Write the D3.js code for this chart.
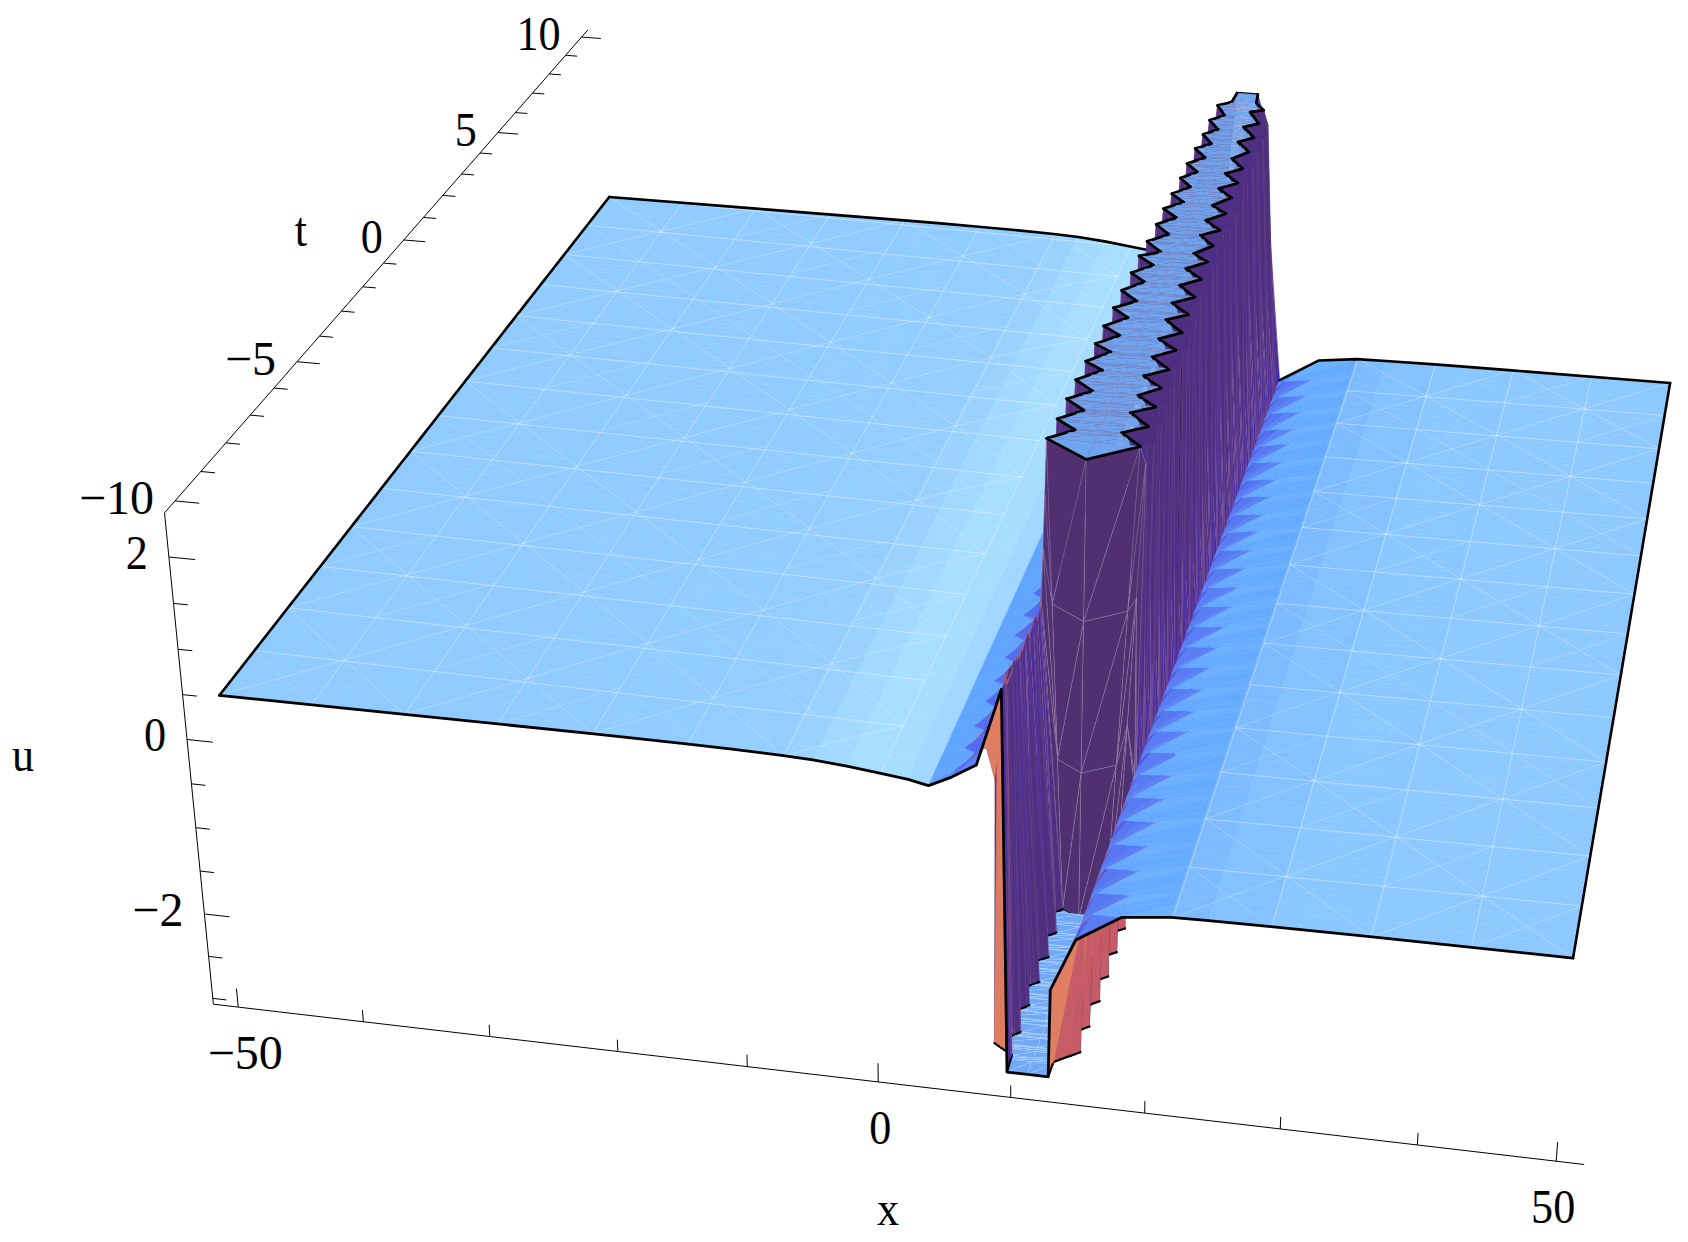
<!DOCTYPE html>
<html>
<head>
<meta charset="utf-8">
<script src="https://cdn.jsdelivr.net/npm/d3@7"></script>
<style>
  body { margin: 0; background: #fff; }
  text { font-family: "Liberation Serif", serif; font-size: 48px; fill: #000; }
</style>
</head>
<body>
<div id="chart"></div>
<script>
// axis ticks
const xTicks = [-50, -40, -30, -20, -10, 0, 10, 20, 30, 40, 50];
const xMajor = [-50, 0, 50];
const tTicks = d3.range(-10, 11);
const tMajor = [-10, -5, 0, 5, 10];
const uTicks = [2, 1.5, 1, 0.5, 0, -0.5, -1, -1.5, -2, -2.5, -3];
const uMajor = [2, 0, -2];

// surface level of the clipped ridge and trough
const uTop = 2.36;
const uBot = -2.96;

// far field profile left of the wall
const leftX = [-50, -35.7, -21.5, -18, -14.4, -11, -7.3, -5, -2.5, 0, 2, 3.5];
const leftU = [0.38, 0.38, 0.38, 0.378, 0.374, 0.368, 0.357, 0.342, 0.312, 0.27, 0.235, 0.19];
const leftFootX = 6.9;
const leftFootU = 0.47;
const leftToothT = [-9.66, -9, -8.33, -7.56, -6.92, -6.16, -5.44, -4.76, -4.02, -3.25, -2.5, -1.8, -1.1];

// far field profile right of the wall
const rightX = [21.3, 24, 28.5, 35.6, 50];
const rightU = [-0.98, -0.972, -0.963, -0.957, -0.95];
const rightToothT = [-9.38, -8.67, -7.96, -7.24, -6.52, -5.8, -5.1, -4.39, -3.73, -3, -2.25, -1.55, -0.82, -0.09, 0.62, 1.33, 2.02, 2.75, 3.42, 4.14, 4.83, 5.54, 6.3, 6.94, 7.68, 8.4, 9.12, 9.85];
const footT = [-10, -5, 10];
const footX = [14.35, 14.25, 14.2];
const footU = -1.35;

// trough edges, t < -5.3
const troughLeftT = [-10, -9.55, -9.28, -8.91, -8.53, -8.16, -7.85, -7.49, -7.1, -6.76, -6.4, -6.04, -5.7, -5.34];
const troughLeftX = [9.3, 9.2, 7.6, 9.2, 7.5, 9.1, 7.4, 9.2, 7.4, 9.2, 7.3, 9.1, 7.3, 8.9];
const peakX = [8.8, 8.7, 7.6, 8.5, 7.6, 8, 7.5, 7.7, 7.3, 7.4, 7.2, 7.2, 7.1, 7];
const peakU = [1.31, 1.25, 0.05, 1.15, 0.95, 1, 0.75, 0.85, 0.65, 0.78, 0.6, 0.72, 0.55, 0.62];
const troughRightT = [-10, -9.6, -9.26, -8.92, -8.55, -8.2, -7.83, -7.47, -7.12, -6.76, -6.41, -6.05, -5.7, -5.34];
const troughRightX = [12.4, 12.4, 14.1, 12.4, 14.1, 12.4, 14.2, 12.4, 14.2, 12.3, 14.2, 12.3, 14.2, 12.3];

// ridge edges, t > -5.1
const ridgeLeftT = [-5.03, -4.65, -4.32, -3.94, -3.58, -3.22, -2.86, -2.43, -2.15, -1.72, -1.46, -1.06, -0.75, -0.35, -0.01, 0.33, 0.71, 1.13, 1.46, 1.84, 2.18, 2.42, 2.82, 3.19, 3.58, 3.94, 4.29, 4.65, 4.98, 5.35, 5.72, 6.06, 6.41, 6.75, 7.14, 7.43, 7.84, 8.14, 8.55, 8.85, 9.31, 9.53, 10];
const ridgeLeftX = [7, 8.8, 7.1, 8.8, 7.1, 8.8, 7.1, 8.8, 7.2, 8.8, 7.3, 8.9, 7.3, 8.9, 7.4, 9, 7.4, 8.9, 7.5, 9, 7.5, 9.1, 7.6, 9.1, 7.7, 9.1, 7.7, 9.1, 7.8, 9.1, 7.9, 9.1, 7.9, 9.2, 8, 9.2, 8.1, 9.2, 8.1, 9.2, 8.2, 9.3, 9.4];
const ridgeRightT = [-5.02, -4.61, -4.31, -3.88, -3.6, -3.24, -2.9, -2.51, -2.2, -1.78, -1.45, -1.07, -0.76, -0.31, -0.04, 0.37, 0.68, 1.1, 1.42, 1.81, 2.15, 2.46, 2.85, 3.25, 3.54, 3.92, 4.28, 4.6, 5.01, 5.37, 5.69, 6.08, 6.37, 6.79, 7.17, 7.6, 7.87, 8.34, 8.56, 9.1, 9.24, 9.55, 10];
const ridgeRightX = [14.1, 12.3, 14.1, 12.3, 14, 12.3, 13.8, 12.1, 13.8, 12.1, 13.7, 12, 13.6, 11.9, 13.5, 11.8, 13.4, 11.8, 13.3, 11.7, 13.2, 11.8, 13.1, 11.7, 13.1, 11.6, 13, 11.6, 12.9, 11.5, 12.9, 11.5, 12.8, 11.5, 12.7, 11.4, 12.6, 11.3, 12.5, 11.3, 12.4, 11.5, 11.3];

const meshT = d3.range(0, 15).map(i => -10 + i * 20 / 14);
const meshX = d3.range(0, 15).map(i => -50 + i * 100 / 14);

const width = 1688;
const height = 1242;

// box scales and camera (fitted to the axis ticks)
const sx = d3.scaleLinear().domain([-52, 52]).range([-1, 1]);
const st = d3.scaleLinear().domain([-10.4, 10.4]).range([-1, 1]);
const su = d3.scaleLinear().domain([-3.1, 2.5]).range([-1, 1]);
const camera = [
  [0.591052, 0.260444, -0.0274428, 1.02161],
  [0.0427986, -0.206003, -0.243905, 0.523857],
  [-0.0268639, 0.130088, -0.0279931, 1]
];
function project(x, t, u) {
  const v = [sx(x), st(t), su(u), 1];
  const w = d3.sum(camera[2], (c, i) => c * v[i]);
  return [1000 * d3.sum(camera[0], (c, i) => c * v[i]) / w, 1000 * d3.sum(camera[1], (c, i) => c * v[i]) / w];
}
const uHi = 2.47, uLo = -3.07, xLo = -52, xHi = 52, tLo = -10.4, tHi = 10.4;

const track = (d, r) => d3.scaleLinear().domain(d).range(r).clamp(true);
const leftLevel = track(leftX, leftU);
const rightLevel = track(rightX, rightU);

// tooth tracks: tip at each listed t, notch half way
function toothTrack(tips, tipValue, notchValue, startValue) {
  const d = [-10], r = [startValue];
  tips.forEach((t, i) => {
    if (i > 0) { d.push((tips[i - 1] + t) / 2); r.push(notchValue); }
    else { d.push((-10 + t) / 2); r.push(notchValue); }
    d.push(t); r.push(tipValue);
  });
  d.push(10); r.push(tipValue);
  return track(d, r);
}
const leftToothX = toothTrack(leftToothT, 5.1, 6.5, 5.2);
const leftToothU = toothTrack(leftToothT, 0.26, 0.33, 0.31);
const rightToothX = toothTrack(rightToothT, 17.8, 15, 17.7);
const rightToothU = toothTrack(rightToothT, -1.04, -1.2, -1.04);

const foot = track(footT, footX);
const tlx = track(troughLeftT, troughLeftX);
const trx = track(troughRightT, troughRightX);
const pkx = track(troughLeftT, peakX);
const pku = track(troughLeftT, peakU);
const rlx = track(ridgeLeftT, ridgeLeftX);
const rrx = track(ridgeRightT, ridgeRightX);
const ridgeTips = ridgeLeftT.filter((d, i) => i % 2 === 0);
const rpx = track(ridgeTips, ridgeLeftX.filter((d, i) => i % 2 === 0));
const rpu = track(ridgeLeftT, ridgeLeftT.map((d, i) => i % 2 === 0 ? uTop : 0.55));

const troughEnd = -5.34, ridgeStart = -5.03;

// the five columns around the wall: peak, left edge, middle, right edge, shoulder
function centre(t) {
  if (t <= troughEnd) {
    const l = tlx(t), r = trx(t), f = foot(t);
    const mid = t === troughEnd ? [10.4, -5.56, uBot] : [(l + r) / 2, t, uBot];
    const sh = t === -10 ? [12.5, t, -1.95] : [(r + f) / 2, t, (uBot + footU) / 2];
    return [[pkx(t), t, pku(t)], [l, t, uBot], mid, [r, t, uBot], sh];
  }
  const l = rlx(t), r = rrx(t);
  const mid = t === ridgeStart ? [10.6, -5.63, uTop] : [(l + r) / 2, t, uTop];
  return [[Math.min(rpx(t), l), t, rpu(t)], [l, t, uTop], mid, [r, t, uTop], [r + 0.45, t, 2.17]];
}
const faceFrac = d3.scaleLinear().domain([0, 1]).range([troughEnd, ridgeStart]);
const faceLevels = [0.33, 0.66];

function makeRow(t, frac) {
  let c;
  if (frac === undefined) c = centre(t);
  else {
    const a = centre(troughEnd), b = centre(ridgeStart);
    c = a.map((p, i) => p.map((v, k) => v + (b[i][k] - v) * frac));
  }
  const row = leftX.map((x, i) => [x, t, leftU[i]]);
  row.push([leftToothX(t), t, leftToothU(t)], [t === -10 ? 7 : leftFootX, t, leftFootU]);
  c.forEach(p => row.push(p));
  row.push([foot(t), t, footU], [rightToothX(t), t, rightToothU(t)]);
  rightX.forEach((x, i) => row.push([x, t, rightU[i]]));
  return row;
}

// row list, sorted in t
const outerT = [-10, 10];
d3.pairs(rightToothT).forEach(p => outerT.push(p[0], (p[0] + p[1]) / 2));
d3.pairs(leftToothT).forEach(p => outerT.push(p[0], (p[0] + p[1]) / 2));
const rowT = Array.from(new Set(troughLeftT.concat(troughRightT, ridgeLeftT, ridgeRightT, outerT)))
  .filter(t => t <= troughEnd || t >= ridgeStart)
  .sort(d3.ascending);
const rows = [];
rowT.forEach(t => {
  rows.push({ t, face: false, pts: makeRow(t) });
  if (t === troughEnd) faceLevels.forEach(f => rows.push({ t: faceFrac(f), face: true, pts: makeRow(faceFrac(f), f) }));
});

// column indices
const nLeft = leftX.length;
const colFootL = nLeft + 1, colPeak = nLeft + 2, colEdgeL = nLeft + 3, colMid = nLeft + 4, colEdgeR = nLeft + 5, colFootR = nLeft + 7;
const colLast = rows[0].pts.length - 1;

// colour from the slope of a triangle
const slopeShade = d3.scaleLinear()
  .domain([-3, -0.9, -0.6, -0.3, -0.15, -0.05, -0.02, -0.008, 0, 0.05, 0.11, 0.4, 1, 3])
  .range(["#4a40d2", "#5062ec", "#5a80f5", "#5fa5ff", "#69aeff", "#74b6ff", "#7cbbff", "#88c6ff", "#90cbff", "#9ad3ff", "#a8deff", "#8ec4ff", "#5a6ae8", "#4f3fc0"]);
const wallShade = d3.interpolateRgb("#4f3070", "#4c2ea2");
const underShade = d3.interpolateRgb("#c25766", "#e58560");

function triangleStyle(a, b, c, opt) {
  const kx = 13.5, kt = 33, ku = 90;
  const e1 = [(b[0] - a[0]) * kx, (b[1] - a[1]) * kt, (b[2] - a[2]) * ku];
  const e2 = [(c[0] - a[0]) * kx, (c[1] - a[1]) * kt, (c[2] - a[2]) * ku];
  let nx = e1[1] * e2[2] - e1[2] * e2[1];
  let nt = e1[2] * e2[0] - e1[0] * e2[2];
  let nz = e1[0] * e2[1] - e1[1] * e2[0];
  const p = project(...a), q = project(...b), r = project(...c);
  const area = (q[0] - p[0]) * (r[1] - p[1]) - (q[1] - p[1]) * (r[0] - p[0]);
  if (area === 0) return null;
  const under = area * nz > 0;
  if (nz < 0) { nx = -nx; nt = -nt; nz = -nz; }
  const steep = Math.hypot(nx, nt) / Math.max(nz, 1e-6);
  const side = Math.abs(nx) / (Math.abs(nx) + Math.abs(nt) + 1e-6);
  if (under && opt.allowUnder) return { fill: underShade(opt.underTone), steep };
  if (steep > 3 || under) return { fill: wallShade(side), side, steep, wall: true };
  return { fill: slopeShade(nx / nz), steep };
}

const prims = [];
const toPath = pts => "M" + pts.map(p => project(...p).map(v => v.toFixed(2)).join(",")).join("L");
function addTri(a, b, c, opt) {
  const s = triangleStyle(a, b, c, opt);
  if (!s) return;
  let fill = opt.capFill || s.fill, stroke = fill, sw = 0.6, op = 1;
  if (opt.capFill) { stroke = opt.capLine; sw = 0.4; op = 0.35; }
  else if (s.wall) {
    if (opt.face) { fill = "#503070"; stroke = "#a892ba"; sw = 0.6; op = 0.5; }
    else if (!opt.plain) { stroke = "#744a86"; sw = 0.5; op = 0.5; }
  }
  prims.push({ d: toPath([a, b, c]) + "Z", fill, stroke, sw, op });
}
function addLine(pts, sw, stroke, op) {
  prims.push({ d: toPath(pts), fill: "none", stroke: stroke || "#000", sw, op: op === undefined ? 1 : op });
}
function addSlab(r, c0, c1) {
  const lo = rows[r], hi = rows[r + 1];
  for (let c = c0; c < c1; c++) {
    const a = lo.pts[c], b = lo.pts[c + 1], d = hi.pts[c], e = hi.pts[c + 1];
    const isCap = c >= colEdgeL && c < colEdgeR && !lo.face && !hi.face && lo.t !== troughEnd;
    const rising = hi.pts[colEdgeR][0] > lo.pts[colEdgeR][0];
    const opt = {
      allowUnder: hi.t <= troughEnd && !(c === colPeak && lo.t >= -9.28) && !(c === colEdgeL && lo.t >= -9.28),
      underTone: c >= colEdgeR && rising ? 0.1 : 0.85,
      face: lo.face || hi.face || lo.t === troughEnd,
      plain: c === colEdgeR,
      capFill: isCap ? (lo.t < troughEnd ? "#70aaf6" : "#6fa5f0") : null,
      capLine: lo.t < troughEnd ? "#d4e6fc" : "#9a94b8"
    };
    addTri(a, e, d, opt);
    addTri(a, b, e, opt);
  }
}

// left plateau, back to front
for (let r = rows.length - 2; r >= 0; r--) addSlab(r, 0, colFootL);

function meshLines(xs, level) {
  const pt = (x, t) => [x, t, level(x)];
  const lines = [];
  xs.forEach(x => lines.push({ p: [pt(x, -10), pt(x, 10)], o: 0.36 }));
  meshT.forEach(t => lines.push({ p: [pt(xs[0], t), pt(xs[xs.length - 1], t)], o: 0.38 }));
  d3.pairs(xs).forEach((px, i) => d3.pairs(meshT).forEach((pm, j) => {
    const a = (i + j) % 2 === 0;
    lines.push({ p: [pt(px[0], a ? pm[0] : pm[1]), pt((px[0] + px[1]) / 2, (pm[0] + pm[1]) / 2), pt(px[1], a ? pm[1] : pm[0])], o: 0.26 });
    if ((i + j) % 3 === 0) lines.push({ p: [pt(px[0], a ? pm[1] : pm[0]), pt(px[1], a ? pm[0] : pm[1])], o: 0.2 });
  }));
  lines.forEach(l => addLine(l.p, 1, "#fff", l.o));
}
meshLines(meshX.filter(x => x < 3.5), leftLevel);

addLine(rows[rows.length - 1].pts.slice(0, colFootL + 1), 2.6);
addLine(rows.map(r => r.pts[0]), 2.6);

// wall and clipped caps, back to front
addLine(rows[rows.length - 1].pts.slice(colEdgeL, colEdgeR + 1), 2.6);
let ridgeArc = null;
for (let r = rows.length - 2; r >= 0; r--) {
  addSlab(r, colFootL, colFootR);
  const lo = rows[r], hi = rows[r + 1];
  if (!lo.face && !hi.face && lo.t !== troughEnd) {
    const w = lo.t < troughEnd ? 2.2 : 2.8;
    addLine([lo.pts[colEdgeL], hi.pts[colEdgeL]], w);
    addLine([lo.pts[colEdgeR], hi.pts[colEdgeR]], w);
  }
  if (lo.t === ridgeStart) ridgeArc = lo.pts.slice(colEdgeL, colEdgeR + 1);
  if (lo.t === troughEnd) {
    addLine(ridgeArc, 2.8);
    addLine(lo.pts.slice(colEdgeL, colMid + 1), 1.6);
  }
}

// right plateau, back to front
for (let r = rows.length - 2; r >= 0; r--) addSlab(r, colFootR, colLast);
meshLines(meshX.filter(x => x > 21), rightLevel);
addLine(rows[rows.length - 1].pts.slice(colFootR), 2.6);
addLine(rows.map(r => r.pts[colLast]), 2.6);

// front edge on top
addLine(rows[0].pts, 2.8);

const svg = d3.select("#chart").append("svg").attr("width", width).attr("height", height);

// axes
const axisG = svg.append("g").attr("stroke", "#000").attr("fill", "none");
const axisLine = pts => axisG.append("path").attr("d", toPath(pts)).attr("stroke-width", 1);
axisLine([[xLo, tLo, uHi], [xLo, tHi, uHi]]);
axisLine([[xLo, tLo, uHi], [xLo, tLo, uLo]]);
axisLine([[xLo, tLo, uLo], [xHi, tLo, uLo]]);
xTicks.forEach(x => axisLine([[x, tLo, uLo], [x, tLo, uLo + (xMajor.includes(x) ? 0.22 : 0.14)]]));
tTicks.forEach(t => axisLine([[xLo, t, uHi], [xLo + (tMajor.includes(t) ? 1.85 : 1.1), t, uHi]]));
uTicks.forEach(u => axisLine([[xLo, tLo, u], [xLo + (uMajor.includes(u) ? 2 : 1.1), tLo, u]]));

const minus = v => (v < 0 ? "\u2212" : "") + Math.abs(v);
const xShift = d3.scaleLinear().domain([-50, 50]).range([7, -3]);
svg.append("g").selectAll("text").data(xMajor).join("text")
  .attr("class", "narrow")
  .attr("text-anchor", "middle")
  .attr("x", d => project(d, tLo, uLo)[0] + xShift(d))
  .attr("y", d => project(d, tLo, uLo)[1] + 62)
  .text(minus);
svg.append("g").selectAll("text").data(tMajor).join("text")
  .attr("class", "narrow")
  .attr("text-anchor", "end")
  .attr("x", d => project(xLo, d, uHi)[0] - 21)
  .attr("y", d => project(xLo, d, uHi)[1] + 13)
  .text(minus);
svg.append("g").selectAll("text").data(uMajor).join("text")
  .attr("class", "narrow")
  .attr("text-anchor", "end")
  .attr("x", d => project(xLo, tLo, d)[0] - 21)
  .attr("y", d => project(xLo, tLo, d)[1] + 12)
  .text(minus);
const axisTitles = [["x", 888, 1225], ["t", 301, 246], ["u", 23, 771]];
svg.append("g").selectAll("text").data(axisTitles).join("text")
  .attr("class", "narrow")
  .attr("text-anchor", "middle").attr("x", d => d[1]).attr("y", d => d[2]).text(d => d[0]);
// the reference digits are a little narrower than the font, its minus is longer
svg.selectAll("text.narrow").each(function () {
  const s = d3.select(this), f = s.text().startsWith("\u2212") ? 1 : 0.92;
  s.attr("textLength", this.getComputedTextLength() * f).attr("lengthAdjust", "spacingAndGlyphs");
});

// surface
svg.append("g").attr("stroke-linejoin", "round").attr("stroke-linecap", "round")
  .selectAll("path").data(prims).join("path")
  .attr("d", d => d.d)
  .attr("fill", d => d.fill)
  .attr("stroke", d => d.stroke)
  .attr("stroke-width", d => d.sw)
  .attr("stroke-opacity", d => d.op === undefined ? 1 : d.op);
</script>
</body>
</html>
